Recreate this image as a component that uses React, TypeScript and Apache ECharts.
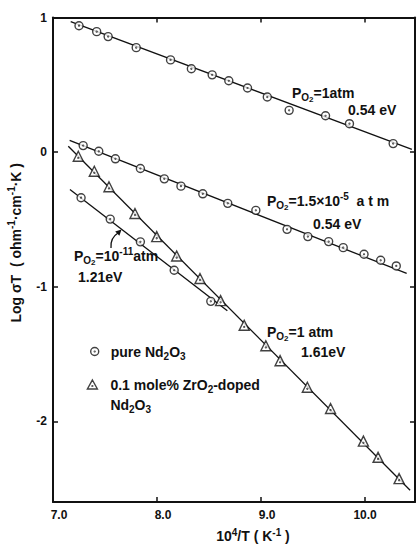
import React, { useEffect, useRef } from "react";
import * as echarts from "echarts";

// ---------- data ----------
const xTicks = [7, 8, 9, 10];
const yTicks = [-2, -1, 0, 1];

// pure Nd2O3, PO2 = 1 atm (0.54 eV)
const pureHighX = [7.25, 7.42, 7.53, 7.8, 8.13, 8.33, 8.53, 8.69, 8.87, 9.06, 9.27, 9.62, 9.85, 10.27];
const pureHighY = [0.939, 0.895, 0.858, 0.776, 0.685, 0.619, 0.574, 0.53, 0.476, 0.409, 0.31, 0.27, 0.211, 0.063];

// pure Nd2O3, PO2 = 1.5e-5 atm (0.54 eV)
const pureMidX = [7.29, 7.44, 7.6, 7.84, 8.07, 8.23, 8.44, 8.68, 8.95, 9.25, 9.45, 9.65, 9.79, 9.99, 10.15, 10.3];
const pureMidY = [0.048, 0.006, -0.05, -0.122, -0.199, -0.253, -0.31, -0.381, -0.433, -0.574, -0.628, -0.665, -0.71, -0.759, -0.804, -0.846];

// pure Nd2O3, PO2 = 1e-11 atm (1.21 eV)
const pureLowX = [7.27, 7.55, 7.84, 8.165, 8.517];
const pureLowY = [-0.339, -0.498, -0.667, -0.878, -1.109];

// 0.1 mole% ZrO2-doped Nd2O3, PO2 = 1 atm (1.61 eV)
const dopedX = [7.243, 7.397, 7.538, 7.788, 7.997, 8.189, 8.413, 8.611, 8.838, 9.046, 9.183, 9.445, 9.668, 9.984, 10.125, 10.327];
const dopedY = [-0.031, -0.142, -0.258, -0.456, -0.628, -0.772, -0.939, -1.104, -1.287, -1.439, -1.55, -1.747, -1.905, -2.148, -2.268, -2.426];

// fitted straight lines (end points)
const fitHighX = [7.17, 10.45];
const fitHighY = [0.969, 0.02];
const fitMidX = [7.16, 10.4];
const fitMidY = [0.087, -0.902];
const fitLowX = [7.163, 8.676];
const fitLowY = [-0.278, -1.179];
const fitDopedX = [7.147, 10.433];
const fitDopedY = [0.043, -2.513];

const pureName = "pure Nd₂O₃";
const dopedName = "0.1 mole% ZrO₂-doped Nd₂O₃";

// ---------- helpers ----------
const zip = (xs: number[], ys: number[]) => xs.map((x, i) => [x, ys[i]]);

const FONT = "'Liberation Sans', Arial, sans-serif";
const INK = "#111";

const CIRCLE = "path://M0 10A10 10 0 1 1 20 10A10 10 0 1 1 0 10ZM9 10A1 1 0 1 1 11 10A1 1 0 1 1 9 10Z";
const TRI = "path://M10 0L20 18L0 18ZM9.2 12A0.8 0.8 0 1 1 10.8 12A0.8 0.8 0 1 1 9.2 12Z";

const tok = (size: number, lh: number, padding?: number[]) => {
  const s: any = {
    fontFamily: FONT,
    fontSize: size,
    fontWeight: "bold",
    lineHeight: lh,
    color: INK,
    fill: INK,
  };
  if (padding) s.padding = padding;
  return s;
};

const RICH = {
  n: tok(14, 20),
  sb: tok(10, 10, [9, 0, 0, 0]),
  ss: tok(8, 8, [13, 0, 0, 0]),
  sp: tok(10, 10, [0, 0, 9, 0]),
};

const RICH_X = {
  n: tok(14, 16),
  sp: tok(10, 9, [0, 0, 7, 0]),
};

const annot = (x: number, y: number, text: string) => ({
  type: "text",
  x,
  y,
  silent: true,
  style: {
    text,
    rich: RICH,
    align: "left",
    verticalAlign: "middle",
    fill: INK,
    fontFamily: FONT,
    fontSize: 14,
    fontWeight: "bold",
  },
});

const PO2 = "{n|P}{sb|O}{ss|2}";

export default function App() {
  const ref = useRef<HTMLDivElement>(null);

  useEffect(() => {
    if (!ref.current) return;
    const chart = echarts.init(ref.current, null, { renderer: "svg" });

    const lineSeries = (xs: number[], ys: number[]) => ({
      type: "line",
      data: zip(xs, ys),
      symbol: "none",
      silent: true,
      z: 2,
      lineStyle: { color: INK, width: 1.3 },
    });

    const axisLine = { show: true, onZero: false, lineStyle: { color: INK, width: 2 } };
    const tickStyle = (vals: number[]) => ({
      show: true,
      inside: true,
      length: 5,
      customValues: vals,
      lineStyle: { color: INK, width: 1.5 },
    });
    const labelFont = { fontFamily: FONT, fontSize: 12, fontWeight: "bold", color: INK };

    const option: any = {
      animation: false,
      backgroundColor: "#fff",
      grid: { left: 53, right: 2, top: 17.5, bottom: 43, containLabel: false, outerBoundsMode: "none" },
      xAxis: [
        {
          type: "value",
          position: "bottom",
          min: 7,
          max: 10.48,
          interval: 1,
          axisLine,
          axisTick: tickStyle(xTicks),
          splitLine: { show: false },
          axisLabel: {
            ...labelFont,
            customValues: xTicks,
            margin: 7,
            formatter: (v: number) =>
              Number.isInteger(v) ? (v === 10 ? `{t|${v.toFixed(1)}}` : `{r|${v.toFixed(1)}}`) : "",
            rich: {
              t: { ...labelFont },
              r: { ...labelFont, padding: [0, 0, 0, 12] },
            },
          },
          name: "{n|10}{sp|4}{n|/T ( K}{sp|-1}{n| )}",
          nameLocation: "middle",
          nameGap: 26,
          nameTextStyle: { rich: RICH_X, padding: [0, 0, 0, 38] },
        },
        {
          type: "value",
          position: "top",
          min: 7,
          max: 10.48,
          interval: 1,
          axisLine,
          axisTick: tickStyle(xTicks),
          splitLine: { show: false },
          axisLabel: { show: false },
        },
      ],
      yAxis: [
        {
          type: "value",
          position: "left",
          min: -2.6,
          max: 1,
          axisLine,
          axisTick: tickStyle(yTicks),
          splitLine: { show: false },
          axisLabel: {
            ...labelFont,
            customValues: yTicks,
            margin: 6,
            formatter: (v: number) => (Number.isInteger(v) ? String(v) : ""),
          },
          name: "{n|Log σT  ( ohm}{sp|-1}{n|·cm}{sp|-1}{n|·K )}",
          nameLocation: "middle",
          nameRotate: 90,
          nameGap: 18,
          nameTextStyle: { rich: RICH, padding: [0, 0, 0, 34] },
        },
        {
          type: "value",
          position: "right",
          min: -2.6,
          max: 1,
          axisLine,
          axisTick: tickStyle(yTicks),
          splitLine: { show: false },
          axisLabel: { show: false },
        },
      ],
      legend: [
        {
          data: [pureName],
          left: 90,
          top: 342,
          padding: 0,
          itemWidth: 8,
          itemHeight: 8,
          selectedMode: false,
          itemStyle: { borderWidth: 1.4, borderColor: INK, color: "#fff" },
          formatter: () => "{n|pure Nd}{sb|2}{n|O}{sb|3}",
          textStyle: { rich: RICH, padding: [0, 0, 0, 7] },
        },
        {
          data: [dopedName],
          left: 86.7,
          top: 375,
          padding: 0,
          itemWidth: 10,
          itemHeight: 10,
          selectedMode: false,
          itemStyle: { borderWidth: 1.4, borderColor: INK, color: "#fff" },
          formatter: () => "{n|0.1 mole% ZrO}{sb|2}{n|-doped}\n{n|Nd}{sb|2}{n|O}{sb|3}",
          textStyle: { rich: RICH, padding: [20, 0, 0, 8] },
        },
      ],
      series: [
        lineSeries(fitHighX, fitHighY),
        lineSeries(fitMidX, fitMidY),
        lineSeries(fitLowX, fitLowY),
        lineSeries(fitDopedX, fitDopedY),
        {
          type: "scatter",
          name: pureName,
          data: [...zip(pureHighX, pureHighY), ...zip(pureMidX, pureMidY), ...zip(pureLowX, pureLowY)],
          symbol: CIRCLE,
          symbolSize: 8,
          z: 4,
          itemStyle: { color: "#fff", borderColor: INK, borderWidth: 1.4 },
        },
        {
          type: "scatter",
          name: dopedName,
          data: zip(dopedX, dopedY),
          symbol: TRI,
          symbolSize: 10,
          z: 4,
          itemStyle: { color: "#fff", borderColor: INK, borderWidth: 1.4 },
        },
      ],
      graphic: [
        annot(292, 93, `${PO2}{n|=1atm}`),
        annot(348, 110, "{n|0.54 eV}"),
        annot(267, 201, `${PO2}{n|=1.5×10}{sp|-5}{n|  a t m}`),
        annot(313, 224, "{n|0.54 eV}"),
        annot(74, 256, `${PO2}{n|=10}{sp|-11}{n|atm}`),
        annot(78, 277, "{n|1.21eV}"),
        annot(267, 332, `${PO2}{n|=1 atm}`),
        annot(301, 352, "{n|1.61eV}"),
        {
          type: "bezierCurve",
          silent: true,
          shape: { x1: 111, y1: 248, cpx1: 110, cpy1: 238, x2: 118, y2: 233 },
          style: { stroke: INK, lineWidth: 1.3, fill: "none" },
        },
        {
          type: "polygon",
          silent: true,
          shape: { points: [[121.5, 229.5], [115.2, 231.6], [119.4, 235.8]] },
          style: { fill: INK },
        },
      ],
    };

    chart.setOption(option);
    return () => chart.dispose();
  }, []);

  return (
    <div
      ref={ref}
      style={{ position: "absolute", left: 0, top: 0, width: 417, height: 545 }}
    />
  );
}
